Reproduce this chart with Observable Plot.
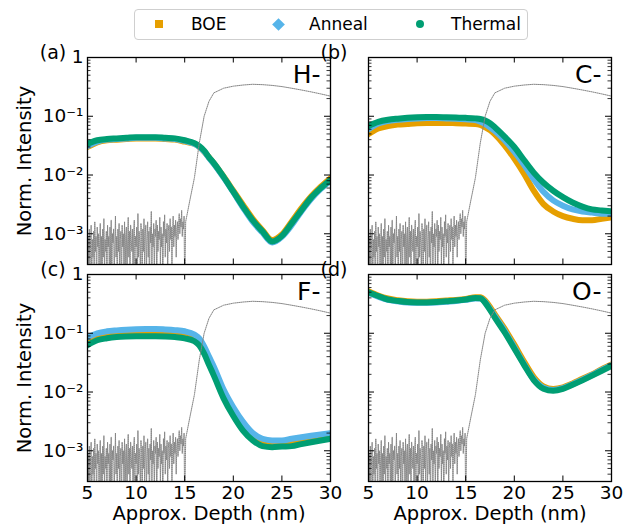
<!DOCTYPE html>
<html><head><meta charset="utf-8">
<script src="https://cdn.jsdelivr.net/npm/d3@7"></script>
<script src="https://cdn.jsdelivr.net/npm/@observablehq/plot@0.6"></script>
<style>
body{margin:0;background:#fff;font-family:"DejaVu Sans",sans-serif;}
#wrap{position:relative;width:636px;height:527px;background:#fff;}
#chart svg, #chart svg text{font-family:"DejaVu Sans",sans-serif !important;}
#legend{position:absolute;left:134px;top:9px;width:392px;height:29px;border:1px solid #cfcfcf;border-radius:4px;background:rgba(255,255,255,0.85);font-size:17px;color:#000;}
#legend .txt{position:absolute;top:3px;line-height:22px;white-space:nowrap;}
#legend .mk{position:absolute;}
</style></head><body>
<div id="wrap"><div id="chart"></div><div id="legend"></div></div>
<script>
// ---------- data ----------
const depth = [5,6,7,8,9,10,11,12,13,14,15,16,16.5,17,17.5,18,19,20,21,22,23,24,25,26,27,28,29,30];
const seriesNames = ["BOE","Anneal","Thermal"];
const seriesColors = ["#E69F00","#56B4E9","#009E73"];
const panelIons = ["H-","C-","F-","O-"];
const panelTags = ["(a)","(b)","(c)","(d)"];

// (a) H-
const hBOE     = [0.030,0.036,0.039,0.040,0.041,0.042,0.042,0.042,0.041,0.040,0.037,0.034,0.030,0.025,0.020,0.0158,0.0094,0.0054,0.0031,0.0018,0.00115,0.00078,0.00097,0.0016,0.0027,0.0043,0.0063,0.0088];
const hAnneal  = [0.031,0.037,0.040,0.041,0.042,0.043,0.043,0.043,0.042,0.041,0.038,0.034,0.030,0.025,0.0195,0.0155,0.0091,0.0051,0.0028,0.0016,0.00105,0.00071,0.00089,0.0014,0.0024,0.0039,0.0058,0.0080];
const hThermal = [0.034,0.039,0.041,0.042,0.043,0.044,0.044,0.044,0.043,0.042,0.039,0.035,0.031,0.026,0.020,0.016,0.0093,0.0052,0.0029,0.0017,0.0011,0.00074,0.00092,0.0015,0.0025,0.0041,0.0060,0.0083];
// (b) C-
const cBOE     = [0.050,0.062,0.068,0.072,0.074,0.076,0.077,0.077,0.077,0.076,0.075,0.074,0.071,0.065,0.058,0.049,0.032,0.019,0.0105,0.0054,0.0032,0.0024,0.0020,0.0018,0.0017,0.0017,0.0018,0.0019];
const cAnneal  = [0.060,0.075,0.083,0.087,0.090,0.092,0.093,0.093,0.092,0.091,0.089,0.086,0.081,0.074,0.065,0.056,0.039,0.025,0.015,0.0085,0.0052,0.0037,0.0030,0.0026,0.0024,0.0023,0.0022,0.0022];
const cThermal = [0.068,0.080,0.087,0.091,0.094,0.096,0.097,0.097,0.096,0.095,0.094,0.092,0.090,0.085,0.076,0.065,0.045,0.030,0.018,0.011,0.0074,0.0054,0.0042,0.0034,0.0029,0.0026,0.0025,0.0024];
// (c) F-
const fBOE     = [0.075,0.088,0.094,0.097,0.099,0.100,0.101,0.101,0.099,0.096,0.092,0.081,0.068,0.050,0.033,0.022,0.0092,0.0046,0.0026,0.0017,0.0014,0.0013,0.0013,0.0014,0.0015,0.0016,0.0017,0.0018];
const fAnneal  = [0.085,0.100,0.108,0.112,0.115,0.117,0.118,0.118,0.116,0.113,0.108,0.095,0.082,0.060,0.040,0.027,0.011,0.0055,0.0031,0.0020,0.0016,0.0015,0.0015,0.0016,0.0017,0.0018,0.0019,0.0020];
const fThermal = [0.063,0.076,0.082,0.086,0.088,0.089,0.089,0.089,0.088,0.086,0.082,0.073,0.062,0.045,0.029,0.019,0.0078,0.0039,0.0022,0.0015,0.0012,0.00115,0.00118,0.0012,0.0013,0.0014,0.0015,0.0016];
// (d) O-
const oBOE     = [0.52,0.44,0.39,0.365,0.35,0.345,0.345,0.35,0.36,0.37,0.385,0.41,0.41,0.36,0.28,0.21,0.12,0.064,0.033,0.018,0.0125,0.0113,0.0120,0.0140,0.0168,0.0200,0.0245,0.0295];
const oAnneal  = [0.49,0.42,0.37,0.35,0.335,0.33,0.33,0.335,0.345,0.355,0.37,0.39,0.39,0.34,0.26,0.195,0.11,0.058,0.030,0.0165,0.0118,0.0108,0.0116,0.0136,0.0162,0.0195,0.0238,0.0285];
const oThermal = [0.50,0.43,0.375,0.355,0.34,0.335,0.335,0.34,0.35,0.36,0.375,0.40,0.395,0.33,0.25,0.185,0.104,0.055,0.029,0.016,0.0114,0.0105,0.0113,0.0133,0.0158,0.019,0.023,0.028];

// gray reference trace (same in every panel): noisy part 5–15 nm (0.0625 nm steps), then the rise
const grayNoise = [
 1e-4,9e-4,3e-4,12e-4,2e-4,7e-4,14e-4,1e-4,8e-4,4e-4,
 11e-4,2e-4,16e-4,5e-4,9e-4,1e-4,13e-4,6e-4,10e-4,2e-4,
 7e-4,15e-4,3e-4,9e-4,1e-4,12e-4,4e-4,18e-4,2e-4,8e-4,
 5e-4,11e-4,1e-4,14e-4,6e-4,9e-4,2e-4,13e-4,3e-4,17e-4,
 1e-4,10e-4,7e-4,12e-4,2e-4,6e-4,20e-4,4e-4,9e-4,1e-4,
 12e-4,5e-4,15e-4,2e-4,8e-4,11e-4,1e-4,14e-4,6e-4,10e-4,
 3e-4,16e-4,2e-4,9e-4,13e-4,1e-4,7e-4,19e-4,4e-4,11e-4,
 2e-4,14e-4,8e-4,5e-4,12e-4,1e-4,10e-4,17e-4,3e-4,9e-4,
 6e-4,13e-4,1e-4,22e-4,4e-4,11e-4,7e-4,2e-4,15e-4,9e-4,
 1e-4,12e-4,5e-4,18e-4,3e-4,10e-4,14e-4,2e-4,8e-4,16e-4,
 4e-4,11e-4,1e-4,13e-4,7e-4,24e-4,3e-4,10e-4,6e-4,15e-4,
 2e-4,12e-4,9e-4,17e-4,1e-4,14e-4,5e-4,11e-4,8e-4,19e-4,
 3e-4,13e-4,6e-4,10e-4,1e-4,16e-4,9e-4,21e-4,4e-4,12e-4,
 7e-4,15e-4,2e-4,11e-4,14e-4,5e-4,18e-4,8e-4,13e-4,3e-4,
 10e-4,20e-4,6e-4,14e-4,9e-4,17e-4,4e-4,12e-4,16e-4,8e-4,
 15e-4,22e-4,10e-4,18e-4,13e-4,25e-4,9e-4,16e-4,12e-4,20e-4,
 1e-4];
const grayRiseDepth = [15.1,15.5,16,16.5,17,17.5,18,19,20,21,22,23,24,25,26,27,28,29,30];
const grayRise      = [0.0016,0.0035,0.009,0.035,0.10,0.18,0.25,0.30,0.325,0.34,0.35,0.345,0.335,0.32,0.30,0.28,0.26,0.24,0.22];

const xTicks = [5,10,15,20,25,30];
const yMajor = [1e-3,1e-2,1e-1,1];

// ---------- tables ----------
const panels = [
  {col:0,row:0,series:[hBOE,hAnneal,hThermal]},
  {col:1,row:0,series:[cBOE,cAnneal,cThermal]},
  {col:0,row:1,series:[fBOE,fAnneal,fThermal]},
  {col:1,row:1,series:[oBOE,oAnneal,oThermal]}
];
const rows = [];
panels.forEach(p => p.series.forEach((vals, si) => vals.forEach((v, i) =>
  rows.push({col:p.col,row:p.row,series:seriesNames[si],depth:depth[i],value:v}))));
const labels = panels.map((p, i) => ({col:p.col,row:p.row,ion:panelIons[i],tag:panelTags[i]}));
const leftPanels = labels.filter(d => d.col === 0);
const bottomPanels = labels.filter(d => d.row === 1);

const noiseStep = 10 / (grayNoise.length - 1);
const gray = grayNoise.map((v, i) => ({depth: 5 + i * noiseStep, value: v}))
  .concat(grayRise.map((v, i) => ({depth: grayRiseDepth[i], value: v})));

const yMinor = [];
for (const k of [-4,-3,-2,-1]) for (let m = 2; m <= 9; m++) { const v = m * Math.pow(10, k); if (v >= 3e-4 && v < 1) yMinor.push(v); }

const supMap = {"-":"\u207B","0":"\u2070","1":"\u00B9","2":"\u00B2","3":"\u00B3","4":"\u2074"};
const fmtY = v => { const e = Math.round(Math.log10(v)); return e === 0 ? "1" : "10" + String(e).split("").map(c => supMap[c]).join(""); };

// ---------- layout ----------
const panelW = 243, panelH = 207.5, majLen = 6, minLen = 3.5;
const FF = "DejaVu Sans";

const chart = Plot.plot({
  width: 636, height: 527,
  marginLeft: 87, marginRight: 25, marginTop: 57, marginBottom: 45,
  style: {fontFamily: FF, fontSize: "19px", color: "#000", background: "transparent", overflow: "visible"},
  x: {domain: [5, 30]},
  y: {type: "log", domain: [3e-4, 1]},
  fx: {domain: [0, 1], axis: null, paddingInner: 38 / 281, paddingOuter: 0},
  fy: {domain: [0, 1], axis: null, paddingInner: 10 / 217.5, paddingOuter: 0},
  marks: [
    ...seriesNames.map((s, si) => Plot.line(rows.filter(d => d.series === s), {
      x: "depth", y: "value", fx: "col", fy: "row",
      stroke: seriesColors[si], strokeWidth: 6, curve: "monotone-x", clip: true
    })),
    Plot.line(gray, {x: "depth", y: "value", stroke: "#858585", strokeWidth: 1, strokeDasharray: "1,1", clip: true}),
    Plot.frame({stroke: "#000", strokeWidth: 1.3}),
    // inward ticks on all four sides
    Plot.tickX(xTicks, {x: d => d, insetTop: panelH - majLen, stroke: "#000"}),
    Plot.tickX(xTicks, {x: d => d, insetBottom: panelH - majLen, stroke: "#000"}),
    Plot.tickY(yMajor, {y: d => d, insetRight: panelW - majLen, stroke: "#000"}),
    Plot.tickY(yMajor, {y: d => d, insetLeft: panelW - majLen, stroke: "#000"}),
    Plot.tickY(yMinor, {y: d => d, insetRight: panelW - minLen, stroke: "#000", strokeWidth: 0.8}),
    Plot.tickY(yMinor, {y: d => d, insetLeft: panelW - minLen, stroke: "#000", strokeWidth: 0.8}),
    Plot.axisX({ticks: xTicks, tickSize: 0, tickPadding: 4, label: null, fontSize: 18.5, fontFamily: FF}),
    Plot.axisY({ticks: yMajor, tickFormat: fmtY, tickSize: 0, tickPadding: 4, label: null, fontSize: 18.5, fontFamily: FF}),
    Plot.text(labels, {fx: "col", fy: "row", text: "ion", frameAnchor: "top-right", textAnchor: "end", lineAnchor: "top", dx: -10, dy: 8, fontSize: 25, fontFamily: FF}),
    Plot.text(labels, {fx: "col", fy: "row", text: "tag", frameAnchor: "top-left", textAnchor: "middle", lineAnchor: "middle", dx: -34.5, dy: -5, fontSize: 19, fontFamily: FF}),
    Plot.text(leftPanels, {fx: "col", fy: "row", text: () => "Norm. Intensity", frameAnchor: "left", rotate: -90, textAnchor: "middle", lineAnchor: "middle", dx: -63, fontSize: 19.5, fontFamily: FF}),
    Plot.text(bottomPanels, {fx: "col", fy: "row", text: () => "Approx. Depth (nm)", frameAnchor: "bottom", textAnchor: "middle", lineAnchor: "middle", dy: 32, fontSize: 19.5, fontFamily: FF})
  ]
});
document.getElementById("chart").appendChild(chart);

// ---------- legend ----------
const legend = document.getElementById("legend");
const mkX = [24, 143, 285], txtX = [56, 174, 316], mkSize = [8, 9, 8.5];
seriesNames.forEach((name, i) => {
  const m = document.createElement("div");
  m.className = "mk";
  const s = mkSize[i];
  m.style.width = s + "px"; m.style.height = s + "px";
  m.style.left = (mkX[i] - s / 2) + "px"; m.style.top = (14 - s / 2) + "px";
  m.style.background = seriesColors[i];
  if (i === 1) m.style.transform = "rotate(45deg)";
  if (i === 2) m.style.borderRadius = "50%";
  legend.appendChild(m);
  const t = document.createElement("div");
  t.className = "txt";
  t.style.left = txtX[i] + "px";
  t.textContent = name;
  legend.appendChild(t);
});
</script>
</body></html>
